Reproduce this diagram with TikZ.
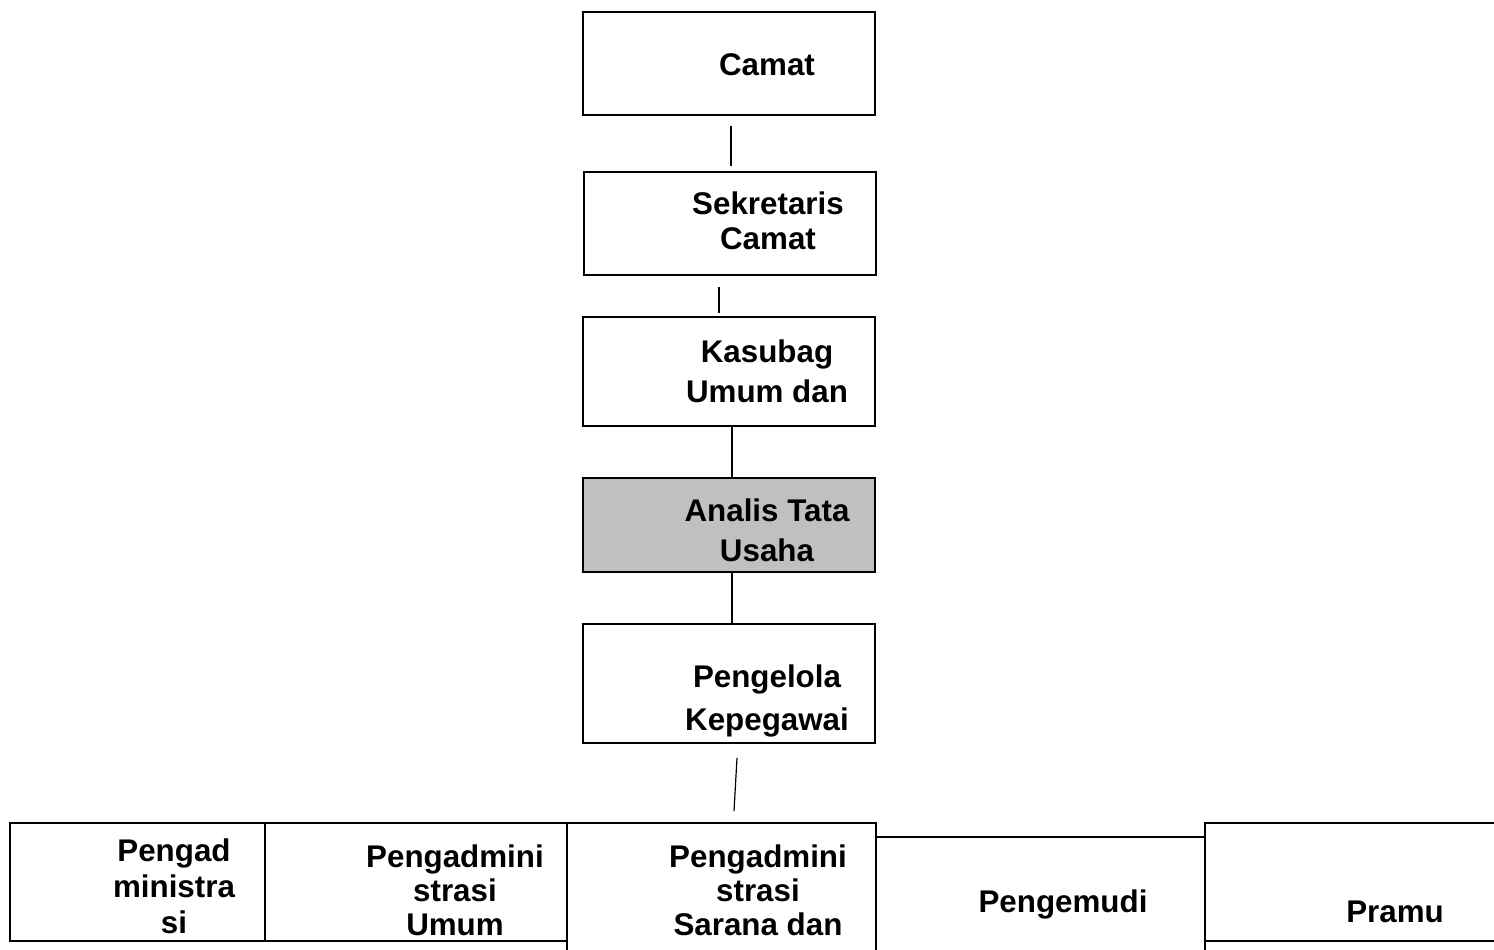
\documentclass[tikz,border=0pt]{standalone}
\usepackage{fontspec}
\setmainfont{Liberation Sans}
\usetikzlibrary{fit,calc}
\begin{document}
\begin{tikzpicture}[x=0.75pt,y=-0.75pt,
  box/.style={draw=black,line width=1.2pt,inner sep=0pt,rectangle},
  lbl/.style={align=center,inner sep=0pt,font=\fontsize{23.5}{27}\selectfont\bfseries},
  thinline/.style={line width=0.9pt},
  thickline/.style={line width=2pt}]
\useasboundingbox (0,0) rectangle (1494,949);
\clip (0,0) rectangle (1494,949);
% top column
\node[box,fit={(583,12) (875,115)}] (camat) {};
\node[box,fit={(584,172) (876,275)}] (sek) {};
\node[box,fit={(583,317) (875,426)}] (kas) {};
\node[box,fill={rgb,255:red,192;green,192;blue,192},fit={(583,478) (875,572)}] (analis) {};
\node[box,fit={(583,624) (875,743)}] (peng) {};
\node[lbl] (camat-t) at (767,65) {Camat};
\node[lbl,font=\fontsize{23.5}{26}\selectfont\bfseries] (sek-t) at (768,221) {Sekretaris\\Camat};
\node[lbl,font=\fontsize{23.5}{30}\selectfont\bfseries] (kas-t) at (767,371) {Kasubag\\Umum dan};
\node[lbl,font=\fontsize{23.5}{30}\selectfont\bfseries] (analis-t) at (767,530) {Analis Tata\\Usaha};
\node[lbl,font=\fontsize{23.5}{32}\selectfont\bfseries] (peng-t) at (767,701) {Pengelola\\Kepegawai};
% bottom row
\node[box,fit={(10,823) (265,941)}] (b1) {};
\node[box,fit={(265,823) (567,941)}] (b2) {};
\node[box,fit={(567,823) (876,1000)}] (sarana) {};
\node[box,fit={(876,837) (1205,1000)}] (pengemudi) {};
\node[box,fit={(1205,823) (1510,941)}] (pramu) {};
\node[lbl] (b1-t) at (174,886) {Pengad\\ministra\\si};
\node[lbl,font=\fontsize{23.5}{25.5}\selectfont\bfseries] (b2-t) at (455,890) {Pengadmini\\strasi\\Umum};
\node[lbl,font=\fontsize{23.5}{25.5}\selectfont\bfseries] (sarana-t) at (758,890) {Pengadmini\\strasi\\Sarana dan};
\node[lbl] (pengemudi-t) at (1063,904) {Pengemudi};
\node[lbl] (pramu-t) at (1395,912) {Pramu};
% connectors
\draw[thinline] ($(camat.south)+(2,10)$) -- ($(sek.north)+(1,-5)$);
\draw[thinline] ($(sek.south)+(-11,11)$) -- ($(kas.north)+(-10,-3)$);
\draw[thickline] ($(kas.south)+(3,0)$) -- ($(analis.north)+(3,0)$);
\draw[thickline] ($(analis.south)+(3,0)$) -- ($(peng.north)+(3,0)$);
\draw[thinline] ($(peng.south)+(8,14)$) -- ($(sarana.north)+(12.5,-11)$);
\end{tikzpicture}
\end{document}
